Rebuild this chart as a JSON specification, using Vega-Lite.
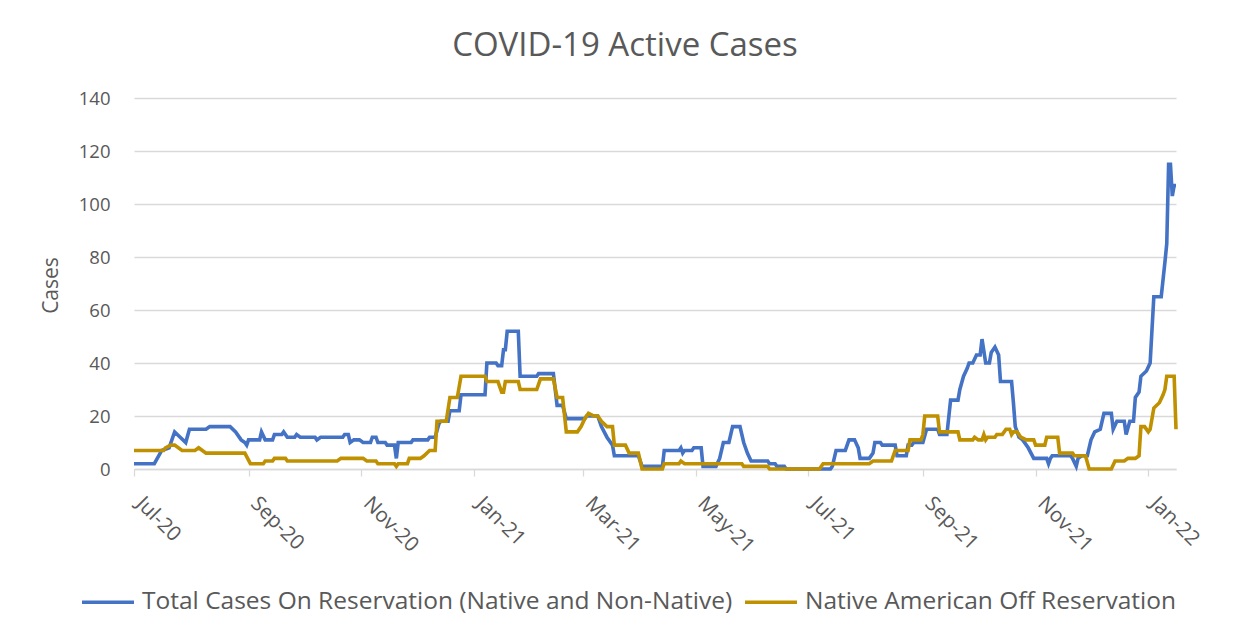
{
  "$schema": "https://vega.github.io/schema/vega-lite/v6.json",
  "autosize": {"type": "none"},
  "width": 1042,
  "height": 371,
  "padding": {"left": 134, "top": 98, "right": 73, "bottom": 171},
  "background": "white",
  "title": {
    "text": "COVID-19 Active Cases",
    "font": "Open Sans",
    "fontSize": 33,
    "fontWeight": "normal",
    "color": "#595959",
    "anchor": "middle",
    "frame": "group",
    "baseline": "alphabetic",
    "offset": 0,
    "dx": -30
  },
  "config": {
    "view": {"stroke": null},
    "font": "Open Sans"
  },
  "datasets": {
    "total": [
      {"date": "2020/07/01", "cases": 2}, {"date": "2020/07/12", "cases": 2}, {"date": "2020/07/16", "cases": 7}, {"date": "2020/07/20", "cases": 8},
      {"date": "2020/07/23", "cases": 14}, {"date": "2020/07/26", "cases": 12}, {"date": "2020/07/29", "cases": 10}, {"date": "2020/07/31", "cases": 15},
      {"date": "2020/08/09", "cases": 15}, {"date": "2020/08/11", "cases": 16}, {"date": "2020/08/22", "cases": 16}, {"date": "2020/08/25", "cases": 14},
      {"date": "2020/08/28", "cases": 11}, {"date": "2020/08/30", "cases": 10}, {"date": "2020/08/31", "cases": 9}, {"date": "2020/09/01", "cases": 11},
      {"date": "2020/09/07", "cases": 11}, {"date": "2020/09/08", "cases": 14}, {"date": "2020/09/10", "cases": 11}, {"date": "2020/09/14", "cases": 11},
      {"date": "2020/09/15", "cases": 13}, {"date": "2020/09/19", "cases": 13}, {"date": "2020/09/20", "cases": 14}, {"date": "2020/09/22", "cases": 12},
      {"date": "2020/09/26", "cases": 12}, {"date": "2020/09/27", "cases": 13}, {"date": "2020/09/29", "cases": 12}, {"date": "2020/10/07", "cases": 12},
      {"date": "2020/10/08", "cases": 11}, {"date": "2020/10/10", "cases": 12}, {"date": "2020/10/22", "cases": 12}, {"date": "2020/10/23", "cases": 13},
      {"date": "2020/10/25", "cases": 13}, {"date": "2020/10/26", "cases": 10}, {"date": "2020/10/28", "cases": 11}, {"date": "2020/10/31", "cases": 11},
      {"date": "2020/11/02", "cases": 10}, {"date": "2020/11/06", "cases": 10}, {"date": "2020/11/07", "cases": 12}, {"date": "2020/11/09", "cases": 12},
      {"date": "2020/11/10", "cases": 10}, {"date": "2020/11/14", "cases": 10}, {"date": "2020/11/15", "cases": 9}, {"date": "2020/11/19", "cases": 9},
      {"date": "2020/11/20", "cases": 4}, {"date": "2020/11/21", "cases": 10}, {"date": "2020/11/28", "cases": 10}, {"date": "2020/11/29", "cases": 11},
      {"date": "2020/12/07", "cases": 11}, {"date": "2020/12/08", "cases": 12}, {"date": "2020/12/11", "cases": 12}, {"date": "2020/12/13", "cases": 17},
      {"date": "2020/12/14", "cases": 18}, {"date": "2020/12/18", "cases": 18}, {"date": "2020/12/19", "cases": 22}, {"date": "2020/12/24", "cases": 22},
      {"date": "2020/12/25", "cases": 28}, {"date": "2021/01/07", "cases": 28}, {"date": "2021/01/08", "cases": 40}, {"date": "2021/01/13", "cases": 40},
      {"date": "2021/01/14", "cases": 39}, {"date": "2021/01/16", "cases": 39}, {"date": "2021/01/17", "cases": 45}, {"date": "2021/01/18", "cases": 45},
      {"date": "2021/01/19", "cases": 52}, {"date": "2021/01/25", "cases": 52}, {"date": "2021/01/26", "cases": 35}, {"date": "2021/02/04", "cases": 35},
      {"date": "2021/02/05", "cases": 36}, {"date": "2021/02/13", "cases": 36}, {"date": "2021/02/15", "cases": 24}, {"date": "2021/02/18", "cases": 24},
      {"date": "2021/02/20", "cases": 19}, {"date": "2021/03/02", "cases": 19}, {"date": "2021/03/03", "cases": 20}, {"date": "2021/03/09", "cases": 20},
      {"date": "2021/03/11", "cases": 16}, {"date": "2021/03/14", "cases": 12}, {"date": "2021/03/17", "cases": 9}, {"date": "2021/03/18", "cases": 5},
      {"date": "2021/03/31", "cases": 5}, {"date": "2021/04/02", "cases": 1}, {"date": "2021/04/13", "cases": 1}, {"date": "2021/04/14", "cases": 7},
      {"date": "2021/04/22", "cases": 7}, {"date": "2021/04/23", "cases": 8}, {"date": "2021/04/24", "cases": 6}, {"date": "2021/04/25", "cases": 7},
      {"date": "2021/04/29", "cases": 7}, {"date": "2021/04/30", "cases": 8}, {"date": "2021/05/04", "cases": 8}, {"date": "2021/05/05", "cases": 1},
      {"date": "2021/05/12", "cases": 1}, {"date": "2021/05/14", "cases": 4}, {"date": "2021/05/16", "cases": 10}, {"date": "2021/05/19", "cases": 10},
      {"date": "2021/05/21", "cases": 16}, {"date": "2021/05/25", "cases": 16}, {"date": "2021/05/27", "cases": 10}, {"date": "2021/05/29", "cases": 6},
      {"date": "2021/05/31", "cases": 3}, {"date": "2021/06/09", "cases": 3}, {"date": "2021/06/10", "cases": 2}, {"date": "2021/06/13", "cases": 2},
      {"date": "2021/06/14", "cases": 1}, {"date": "2021/06/18", "cases": 1}, {"date": "2021/06/19", "cases": 0}, {"date": "2021/07/13", "cases": 0},
      {"date": "2021/07/14", "cases": 1}, {"date": "2021/07/16", "cases": 7}, {"date": "2021/07/21", "cases": 7}, {"date": "2021/07/23", "cases": 11},
      {"date": "2021/07/26", "cases": 11}, {"date": "2021/07/28", "cases": 8}, {"date": "2021/07/29", "cases": 4}, {"date": "2021/08/03", "cases": 4},
      {"date": "2021/08/05", "cases": 6}, {"date": "2021/08/06", "cases": 10}, {"date": "2021/08/09", "cases": 10}, {"date": "2021/08/10", "cases": 9},
      {"date": "2021/08/17", "cases": 9}, {"date": "2021/08/18", "cases": 5}, {"date": "2021/08/23", "cases": 5}, {"date": "2021/08/24", "cases": 9},
      {"date": "2021/08/26", "cases": 9}, {"date": "2021/08/27", "cases": 10}, {"date": "2021/09/01", "cases": 10}, {"date": "2021/09/03", "cases": 15},
      {"date": "2021/09/09", "cases": 15}, {"date": "2021/09/10", "cases": 13}, {"date": "2021/09/14", "cases": 13}, {"date": "2021/09/16", "cases": 26},
      {"date": "2021/09/20", "cases": 26}, {"date": "2021/09/21", "cases": 30}, {"date": "2021/09/23", "cases": 35}, {"date": "2021/09/25", "cases": 38},
      {"date": "2021/09/26", "cases": 40}, {"date": "2021/09/28", "cases": 40}, {"date": "2021/09/30", "cases": 43}, {"date": "2021/10/02", "cases": 43},
      {"date": "2021/10/03", "cases": 49}, {"date": "2021/10/05", "cases": 40}, {"date": "2021/10/07", "cases": 40}, {"date": "2021/10/08", "cases": 44},
      {"date": "2021/10/09", "cases": 45}, {"date": "2021/10/10", "cases": 46}, {"date": "2021/10/12", "cases": 43}, {"date": "2021/10/13", "cases": 33},
      {"date": "2021/10/19", "cases": 33}, {"date": "2021/10/20", "cases": 25}, {"date": "2021/10/21", "cases": 16}, {"date": "2021/10/23", "cases": 12},
      {"date": "2021/10/25", "cases": 11}, {"date": "2021/10/28", "cases": 8}, {"date": "2021/10/31", "cases": 4}, {"date": "2021/11/07", "cases": 4},
      {"date": "2021/11/08", "cases": 2}, {"date": "2021/11/09", "cases": 4}, {"date": "2021/11/10", "cases": 5}, {"date": "2021/11/20", "cases": 5},
      {"date": "2021/11/21", "cases": 4}, {"date": "2021/11/23", "cases": 1}, {"date": "2021/11/24", "cases": 4}, {"date": "2021/11/26", "cases": 5},
      {"date": "2021/11/29", "cases": 5}, {"date": "2021/12/01", "cases": 11}, {"date": "2021/12/03", "cases": 14}, {"date": "2021/12/06", "cases": 15},
      {"date": "2021/12/08", "cases": 21}, {"date": "2021/12/12", "cases": 21}, {"date": "2021/12/13", "cases": 15}, {"date": "2021/12/15", "cases": 18},
      {"date": "2021/12/19", "cases": 18}, {"date": "2021/12/20", "cases": 13}, {"date": "2021/12/22", "cases": 18}, {"date": "2021/12/24", "cases": 18},
      {"date": "2021/12/25", "cases": 27}, {"date": "2021/12/27", "cases": 29}, {"date": "2021/12/28", "cases": 35}, {"date": "2021/12/31", "cases": 37},
      {"date": "2022/01/02", "cases": 40}, {"date": "2022/01/04", "cases": 65}, {"date": "2022/01/08", "cases": 65}, {"date": "2022/01/10", "cases": 78},
      {"date": "2022/01/11", "cases": 85}, {"date": "2022/01/12", "cases": 115}, {"date": "2022/01/13", "cases": 115}, {"date": "2022/01/14", "cases": 103},
      {"date": "2022/01/15", "cases": 107}, {"date": "2022/01/16", "cases": 107}
    ],
    "native": [
      {"date": "2020/07/01", "cases": 7}, {"date": "2020/07/17", "cases": 7}, {"date": "2020/07/18", "cases": 8}, {"date": "2020/07/21", "cases": 9},
      {"date": "2020/07/23", "cases": 9}, {"date": "2020/07/27", "cases": 7}, {"date": "2020/08/03", "cases": 7}, {"date": "2020/08/05", "cases": 8},
      {"date": "2020/08/07", "cases": 7}, {"date": "2020/08/09", "cases": 6}, {"date": "2020/08/30", "cases": 6}, {"date": "2020/09/02", "cases": 2},
      {"date": "2020/09/09", "cases": 2}, {"date": "2020/09/10", "cases": 3}, {"date": "2020/09/14", "cases": 3}, {"date": "2020/09/15", "cases": 4},
      {"date": "2020/09/21", "cases": 4}, {"date": "2020/09/22", "cases": 3}, {"date": "2020/10/19", "cases": 3}, {"date": "2020/10/21", "cases": 4},
      {"date": "2020/11/02", "cases": 4}, {"date": "2020/11/04", "cases": 3}, {"date": "2020/11/09", "cases": 3}, {"date": "2020/11/10", "cases": 2},
      {"date": "2020/11/19", "cases": 2}, {"date": "2020/11/20", "cases": 1}, {"date": "2020/11/21", "cases": 2}, {"date": "2020/11/26", "cases": 2},
      {"date": "2020/11/27", "cases": 4}, {"date": "2020/12/03", "cases": 4}, {"date": "2020/12/05", "cases": 5}, {"date": "2020/12/08", "cases": 7},
      {"date": "2020/12/11", "cases": 7}, {"date": "2020/12/12", "cases": 18}, {"date": "2020/12/17", "cases": 18}, {"date": "2020/12/19", "cases": 27},
      {"date": "2020/12/23", "cases": 27}, {"date": "2020/12/25", "cases": 35}, {"date": "2021/01/07", "cases": 35}, {"date": "2021/01/08", "cases": 33},
      {"date": "2021/01/14", "cases": 33}, {"date": "2021/01/16", "cases": 29}, {"date": "2021/01/17", "cases": 29}, {"date": "2021/01/18", "cases": 33},
      {"date": "2021/01/25", "cases": 33}, {"date": "2021/01/26", "cases": 30}, {"date": "2021/02/04", "cases": 30}, {"date": "2021/02/06", "cases": 34},
      {"date": "2021/02/13", "cases": 34}, {"date": "2021/02/15", "cases": 27}, {"date": "2021/02/18", "cases": 27}, {"date": "2021/02/20", "cases": 14},
      {"date": "2021/02/26", "cases": 14}, {"date": "2021/02/28", "cases": 16}, {"date": "2021/03/02", "cases": 19}, {"date": "2021/03/04", "cases": 21},
      {"date": "2021/03/07", "cases": 20}, {"date": "2021/03/09", "cases": 20}, {"date": "2021/03/11", "cases": 18}, {"date": "2021/03/14", "cases": 16},
      {"date": "2021/03/17", "cases": 16}, {"date": "2021/03/18", "cases": 9}, {"date": "2021/03/24", "cases": 9}, {"date": "2021/03/26", "cases": 6},
      {"date": "2021/03/31", "cases": 6}, {"date": "2021/04/02", "cases": 0}, {"date": "2021/04/13", "cases": 0}, {"date": "2021/04/14", "cases": 2},
      {"date": "2021/04/22", "cases": 2}, {"date": "2021/04/23", "cases": 3}, {"date": "2021/04/25", "cases": 2}, {"date": "2021/05/26", "cases": 2},
      {"date": "2021/05/27", "cases": 1}, {"date": "2021/06/09", "cases": 1}, {"date": "2021/06/10", "cases": 0}, {"date": "2021/07/07", "cases": 0},
      {"date": "2021/07/09", "cases": 2}, {"date": "2021/08/03", "cases": 2}, {"date": "2021/08/05", "cases": 3}, {"date": "2021/08/15", "cases": 3},
      {"date": "2021/08/17", "cases": 7}, {"date": "2021/08/24", "cases": 7}, {"date": "2021/08/25", "cases": 11}, {"date": "2021/08/31", "cases": 11},
      {"date": "2021/09/01", "cases": 13}, {"date": "2021/09/02", "cases": 20}, {"date": "2021/09/09", "cases": 20}, {"date": "2021/09/10", "cases": 14},
      {"date": "2021/09/20", "cases": 14}, {"date": "2021/09/21", "cases": 11}, {"date": "2021/09/28", "cases": 11}, {"date": "2021/09/29", "cases": 12},
      {"date": "2021/10/01", "cases": 11}, {"date": "2021/10/03", "cases": 11}, {"date": "2021/10/04", "cases": 13}, {"date": "2021/10/05", "cases": 11},
      {"date": "2021/10/06", "cases": 12}, {"date": "2021/10/10", "cases": 12}, {"date": "2021/10/11", "cases": 13}, {"date": "2021/10/14", "cases": 13},
      {"date": "2021/10/15", "cases": 14}, {"date": "2021/10/16", "cases": 15}, {"date": "2021/10/18", "cases": 15}, {"date": "2021/10/19", "cases": 13},
      {"date": "2021/10/20", "cases": 14}, {"date": "2021/10/22", "cases": 14}, {"date": "2021/10/24", "cases": 12}, {"date": "2021/10/27", "cases": 11},
      {"date": "2021/10/31", "cases": 11}, {"date": "2021/11/01", "cases": 9}, {"date": "2021/11/06", "cases": 9}, {"date": "2021/11/07", "cases": 12},
      {"date": "2021/11/13", "cases": 12}, {"date": "2021/11/14", "cases": 6}, {"date": "2021/11/21", "cases": 6}, {"date": "2021/11/22", "cases": 5},
      {"date": "2021/11/28", "cases": 5}, {"date": "2021/11/30", "cases": 0}, {"date": "2021/12/12", "cases": 0}, {"date": "2021/12/14", "cases": 3},
      {"date": "2021/12/19", "cases": 3}, {"date": "2021/12/21", "cases": 4}, {"date": "2021/12/25", "cases": 4}, {"date": "2021/12/27", "cases": 5},
      {"date": "2021/12/28", "cases": 16}, {"date": "2021/12/30", "cases": 16}, {"date": "2022/01/01", "cases": 14}, {"date": "2022/01/02", "cases": 15},
      {"date": "2022/01/04", "cases": 23}, {"date": "2022/01/07", "cases": 25}, {"date": "2022/01/09", "cases": 28}, {"date": "2022/01/10", "cases": 30},
      {"date": "2022/01/11", "cases": 35}, {"date": "2022/01/15", "cases": 35}, {"date": "2022/01/16", "cases": 15}
    ]
  },
  "encoding": {
    "x": {
      "field": "date",
      "type": "temporal",
      "scale": {
        "domain": [{"year": 2020, "month": 7, "date": 1}, {"year": 2022, "month": 1, "date": 16}],
        "nice": false
      },
      "axis": {
        "title": null,
        "values": [
          {"year": 2020, "month": 7, "date": 1}, {"year": 2020, "month": 9, "date": 1}, {"year": 2020, "month": 11, "date": 1},
          {"year": 2021, "month": 1, "date": 1}, {"year": 2021, "month": 3, "date": 1}, {"year": 2021, "month": 5, "date": 1},
          {"year": 2021, "month": 7, "date": 1}, {"year": 2021, "month": 9, "date": 1}, {"year": 2021, "month": 11, "date": 1},
          {"year": 2022, "month": 1, "date": 1}
        ],
        "format": "%b-%y",
        "labelAngle": 45,
        "labelAlign": "left",
        "labelBaseline": "top",
        "labelPadding": 17,
        "labelOffset": 12,
        "labelFont": "Open Sans",
        "labelFontSize": 20.5,
        "labelColor": "#595959",
        "labelFlush": false,
        "labelOverlap": false,
        "labelBound": false,
        "grid": false,
        "domainColor": "#D9D9D9",
        "domainWidth": 1.3,
        "tickColor": "#D9D9D9",
        "tickWidth": 1.3,
        "tickSize": 7
      }
    },
    "y": {
      "field": "cases",
      "type": "quantitative",
      "scale": {"domain": [0, 140], "nice": false, "zero": true},
      "axis": {
        "title": "Cases",
        "titleFont": "Open Sans",
        "titleFontSize": 21,
        "titleFontWeight": "normal",
        "titleColor": "#595959",
        "titleAngle": -90,
        "titleX": -83,
        "titleY": 187,
        "titleAlign": "center",
        "titleBaseline": "middle",
        "values": [0, 20, 40, 60, 80, 100, 120, 140],
        "labelFont": "Open Sans",
        "labelFontSize": 18.5,
        "labelColor": "#595959",
        "labelPadding": 24,
        "domain": false,
        "ticks": false,
        "grid": true,
        "gridColor": "#D9D9D9",
        "gridWidth": 1.3
      }
    },
    "color": {
      "scale": {
        "domain": ["Total Cases On Reservation (Native and Non-Native)", "Native American Off Reservation"],
        "range": ["#4472C4", "#BF9000"]
      },
      "legend": {
        "title": null,
        "orient": "none",
        "legendX": -54,
        "legendY": 476,
        "direction": "horizontal",
        "symbolType": "stroke",
        "symbolSize": 2700,
        "symbolStrokeWidth": 3.5,
        "labelFont": "Open Sans",
        "labelFontSize": 24.5,
        "labelColor": "#595959",
        "labelOffset": 6,
        "labelLimit": 800,
        "columnPadding": 5
      }
    }
  },
  "layer": [
    {
      "data": {"name": "total"},
      "mark": {"type": "line", "strokeWidth": 3.6, "interpolate": "linear"},
      "encoding": {"color": {"datum": "Total Cases On Reservation (Native and Non-Native)"}}
    },
    {
      "data": {"name": "native"},
      "mark": {"type": "line", "strokeWidth": 3.6, "interpolate": "linear"},
      "encoding": {"color": {"datum": "Native American Off Reservation"}}
    }
  ]
}
